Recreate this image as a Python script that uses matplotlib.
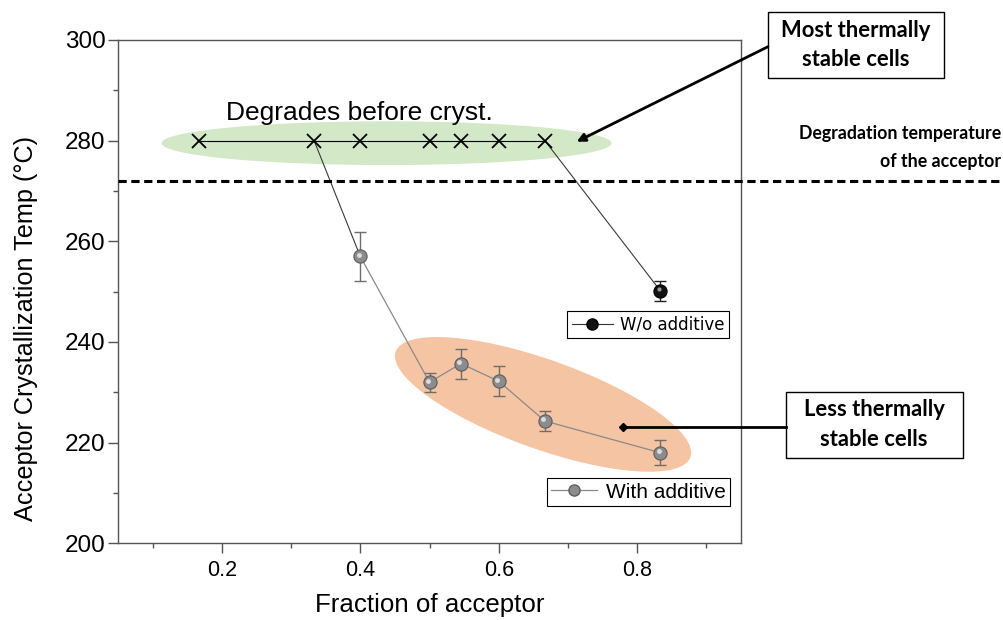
import matplotlib.pyplot as plt
from matplotlib.patches import Ellipse, Rectangle
from matplotlib.lines import Line2D
import matplotlib.transforms as mtransforms

# values
degrade_x = [1/6, 1/3, 0.4, 0.5, 6/11, 0.6, 2/3]
degrade_temp = 280
additive_x = [0.4, 0.5, 6/11, 0.6, 2/3, 5/6]
additive_y = [257.0, 232.0, 235.7, 232.2, 224.3, 218.0]
additive_err = [4.9, 1.9, 3.0, 3.0, 2.0, 2.5]
no_additive_x = [5/6]
no_additive_y = [250.2]
no_additive_err = [2.0]
degradation_limit = 272

W, H = 1004, 620


def fp(x, y):
    # image pixel (top-left origin) -> figure fraction
    return (x / W, 1 - y / H)


fig = plt.figure(figsize=(W / 100, H / 100), dpi=100)
ax = fig.add_axes([118 / W, 1 - 543.3 / H, 623 / W, 503.3 / H])

# highlighted regions
ax.add_patch(Ellipse((0.438, 279.5), 0.65, 8.7, facecolor='#d3e8c6', edgecolor='none', zorder=0))
orange_tr = fig.dpi_scale_trans + mtransforms.ScaledTranslation(0.664, 227.6, ax.transData)
ax.add_patch(Ellipse((0, 0), 3.13, 0.89, angle=-19.7, facecolor='#f5c4a2', edgecolor='none',
                     transform=orange_tr, zorder=0))

# degraded points
ax.plot(degrade_x, [degrade_temp] * len(degrade_x), color='k', lw=0.8, marker='x', ms=10, mew=1.3, zorder=3)

# connecting lines
ax.plot([degrade_x[1], additive_x[0]], [degrade_temp, additive_y[0]], color='#3a3a3a', lw=0.8, zorder=2)
ax.plot([degrade_x[-1], no_additive_x[0]], [degrade_temp, no_additive_y[0]], color='#3a3a3a', lw=0.8, zorder=2)

# with additive
ax.errorbar(additive_x, additive_y, yerr=additive_err, color='#8a8a8a', lw=0.9, ecolor='#6e6e6e',
            elinewidth=1, capsize=4, capthick=1, fmt='-', zorder=3)
ax.plot(additive_x, additive_y, ls='none', marker='o', ms=9.5, mfc='#8c8c8c', mec='#5c5c5c', mew=0.8, zorder=4)
hl = mtransforms.offset_copy(ax.transData, fig=fig, x=-1.5, y=1.5, units='dots')
ax.plot(additive_x, additive_y, ls='none', marker='o', ms=3.5, mfc='#dcdcdc', mec='none', transform=hl, zorder=5)

# without additive
ax.errorbar(no_additive_x, no_additive_y, yerr=no_additive_err, color='k', ecolor='#222222',
            elinewidth=1, capsize=4, capthick=1, fmt='none', zorder=3)
ax.plot(no_additive_x, no_additive_y, ls='none', marker='o', ms=9.5, mfc='#111111', mec='k', mew=0.8, zorder=4)
ax.plot(no_additive_x, no_additive_y, ls='none', marker='o', ms=3, mfc='#9a9a9a', mec='none', transform=hl, zorder=5)

# degradation temperature line, runs to the figure edge
blend = mtransforms.blended_transform_factory(fig.transFigure, ax.transData)
fig.add_artist(Line2D([118 / W, 1.0], [degradation_limit, degradation_limit], transform=blend,
                      color='k', lw=2.2, dashes=(2.7, 1.5)))

ax.text(0.3985, 284.2, 'Degrades before cryst.', ha='center', va='baseline',
        fontfamily='Liberation Sans', fontsize=19)

ax.set_xlim(0.05, 0.95)
ax.set_ylim(200, 300)
ax.set_xticks([0.2, 0.4, 0.6, 0.8])
ax.set_xticks([0.1, 0.3, 0.5, 0.7, 0.9], minor=True)
ax.set_yticks(range(200, 301, 20))
ax.set_yticks(range(210, 300, 20), minor=True)
ax.tick_params(which='both', direction='out', color='#555555', top=False, right=False)
ax.tick_params(which='major', length=7, width=1)
ax.tick_params(which='minor', length=3.5, width=1)
ax.tick_params(axis='x', labelsize=15.5, pad=5)
ax.tick_params(axis='y', labelsize=17.5, pad=2)
for lab in ax.get_xticklabels() + ax.get_yticklabels():
    lab.set_fontfamily('Liberation Sans')
for sp in ax.spines.values():
    sp.set_color('#555555')
    sp.set_linewidth(1)

ax.set_xlabel('Fraction of acceptor', fontfamily='Liberation Sans', fontsize=18.6, va='center')
ax.xaxis.set_label_coords(0.5, -0.1226)
ax.set_ylabel('Acceptor Crystallization Temp (°C)', fontfamily='Liberation Sans', fontsize=18.2, va='center')
ax.yaxis.set_label_coords(-0.1477, 0.426)

# legends
h_no = Line2D([], [], color='#333333', lw=0.8, marker='o', ms=8, mfc='#111111', mec='k')
h_add = Line2D([], [], color='#8a8a8a', lw=0.9, marker='o', ms=8, mfc='#8c8c8c', mec='#5c5c5c')
leg1 = ax.legend([h_no], ['W/o additive'], loc='center', bbox_to_anchor=fp(648, 324.5),
                 bbox_transform=fig.transFigure, fancybox=False, framealpha=1, edgecolor='k',
                 prop=dict(family='DejaVu Sans', size=12), handlelength=2.5, borderpad=0.25,
                 handletextpad=0.4, borderaxespad=0)
leg1.get_frame().set_linewidth(0.8)
ax.add_artist(leg1)
leg2 = ax.legend([h_add], ['With additive'], loc='center', bbox_to_anchor=fp(638.5, 492),
                 bbox_transform=fig.transFigure, fancybox=False, framealpha=1, edgecolor='k',
                 prop=dict(family='Liberation Sans', size=15), handlelength=2.2, borderpad=0.2,
                 handletextpad=0.4, borderaxespad=0)
leg2.get_frame().set_linewidth(0.8)

# callouts
note = dict(fontfamily='Lato', fontweight='bold', fontsize=15.8, ha='center', va='center')
fig.add_artist(Rectangle(fp(768, 78), 176 / W, 66.3 / H, transform=fig.transFigure,
                         fill=False, ec='k', lw=1))
fig.text(*fp(856, 30.7), 'Most thermally', **note)
fig.text(*fp(856, 60), 'stable cells', **note)
fig.add_artist(Rectangle(fp(786, 458.3), 176.7 / W, 66.6 / H, transform=fig.transFigure,
                         fill=False, ec='k', lw=1))
fig.text(*fp(874, 410), 'Less thermally', **note)
fig.text(*fp(874, 440), 'stable cells', **note)

right = dict(fontfamily='Lato', fontweight='bold', fontsize=12.8, ha='right', va='center')
fig.text(*fp(1001, 133), 'Degradation temperature', **right)
fig.text(*fp(1001, 162), 'of the acceptor', **right)

ax.annotate('', xy=fp(576.7, 141.7), xycoords='figure fraction', xytext=fp(768, 46.7),
            textcoords='figure fraction', annotation_clip=False,
            arrowprops=dict(arrowstyle='-|>', color='k', lw=2, mutation_scale=12, shrinkA=0, shrinkB=0))
x0, y0 = fp(786, 426.7)
x1, y1 = fp(623.3, 426.7)
fig.add_artist(Line2D([x0, x1], [y0, y1], transform=fig.transFigure, color='k', lw=2))
fig.add_artist(Line2D([x1], [y1], transform=fig.transFigure, color='k', marker='D', ms=4, ls='none'))

fig.savefig('out.png', dpi=100)
